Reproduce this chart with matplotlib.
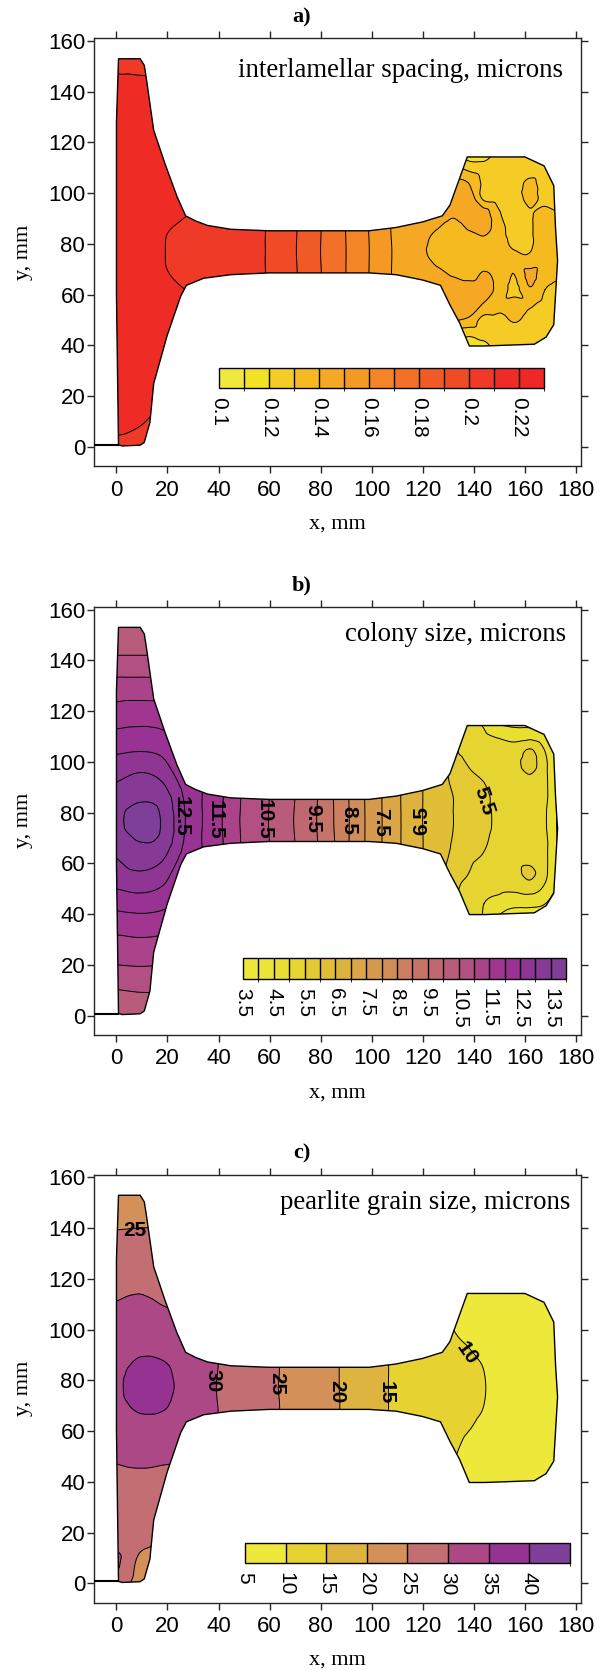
import numpy as np
import matplotlib.pyplot as plt
import matplotlib.tri as mtri
from matplotlib.patches import Polygon
from matplotlib.colors import ListedColormap, BoundaryNorm
from matplotlib.cm import ScalarMappable

plt.rcParams['font.family'] = ['Liberation Sans', 'DejaVu Sans']

# rail cross-section outline (mm)
rail_x = [0.8, 2.3, 9.3, 10.9, 13.1, 14.6, 19.9, 25.2, 27.4, 34.2, 44.8, 59.8, 99.0, 109.6,
          120.0, 127.0, 130.7, 134.5, 138.3, 144.3, 163.8, 168.4, 171.4, 172.9, 172.1, 171.4,
          167.6, 160.1, 137.5, 134.5, 130.7, 127.7, 120.0, 109.6, 99.0, 59.8, 44.8, 35.7,
          31.2, 27.1, 23.7, 19.1, 14.6, 11.6, 10.9, 9.3, 0.8, 0.0, 0.0]
rail_y = [0.8, 0.4, 0.7, 1.8, 9.6, 25.0, 44.0, 59.5, 63.7, 66.5, 67.9, 68.6, 68.6, 67.9,
          65.8, 63.7, 56.0, 48.9, 39.8, 39.8, 40.5, 43.3, 48.2, 73.5, 86.2, 103.0,
          110.8, 114.3, 114.3, 105.9, 95.3, 91.1, 88.7, 86.5, 85.2, 85.2, 85.8, 87.3,
          89.0, 91.1, 98.8, 111.4, 124.8, 146.0, 150.4, 153.0, 153.0, 128.0, 60.0]
foot_x = [-9.0, 0.5]
foot_y = [0.8, 0.8]

# measurement positions: flange (base), web, head
base_x = [0, 9, 18, 27]
base_y = [0, 8, 20, 35, 50, 62, 70, 77, 84, 92, 105, 118, 130, 142, 150, 156]
web_x = [30, 40, 50, 60, 70, 80, 90, 100, 110, 120]
web_y = [62, 77, 92]
head_x = [126, 132, 138, 144, 150, 156, 162, 168, 174]
head_y = [38, 44, 50, 56, 62, 68, 74, 80, 86, 92, 98, 104, 110, 116]

# a) interlamellar spacing, microns
a_base = [[0.205, 0.204, 0.203, 0.203],
          [0.213, 0.210, 0.206, 0.206],
          [0.215, 0.215, 0.215, 0.215],
          [0.215, 0.215, 0.215, 0.215],
          [0.215, 0.215, 0.215, 0.215],
          [0.215, 0.215, 0.2135, 0.210],
          [0.215, 0.215, 0.2107, 0.2075],
          [0.215, 0.215, 0.2105, 0.207],
          [0.215, 0.215, 0.2107, 0.2075],
          [0.215, 0.215, 0.2135, 0.2105],
          [0.215, 0.215, 0.215, 0.215],
          [0.215, 0.215, 0.215, 0.215],
          [0.215, 0.215, 0.215, 0.215],
          [0.215, 0.215, 0.215, 0.215],
          [0.207, 0.206, 0.206, 0.206],
          [0.204, 0.204, 0.204, 0.204]]
a_web = [[0.2095, 0.2045, 0.2035, 0.199, 0.1905, 0.180, 0.170, 0.159, 0.148, 0.141],
         [0.206, 0.204, 0.2035, 0.199, 0.1905, 0.180, 0.170, 0.159, 0.148, 0.141],
         [0.2095, 0.2045, 0.2035, 0.199, 0.1905, 0.180, 0.170, 0.159, 0.148, 0.141]]
a_head = [[0.135, 0.118, 0.113, 0.116, 0.123, 0.124, 0.124, 0.124, 0.124],
          [0.135, 0.125, 0.121, 0.123, 0.124, 0.124, 0.124, 0.124, 0.124],
          [0.145, 0.141, 0.138, 0.126, 0.127, 0.131, 0.127, 0.125, 0.124],
          [0.146, 0.147, 0.146, 0.139, 0.133, 0.134, 0.131, 0.127, 0.125],
          [0.146, 0.147, 0.146, 0.144, 0.137, 0.127, 0.139, 0.130, 0.127],
          [0.142, 0.139, 0.136, 0.141, 0.137, 0.130, 0.143, 0.134, 0.132],
          [0.138, 0.136, 0.135, 0.136, 0.135, 0.133, 0.132, 0.135, 0.134],
          [0.137, 0.135, 0.135, 0.136, 0.134, 0.128, 0.129, 0.134, 0.134],
          [0.140, 0.136, 0.1405, 0.144, 0.134, 0.126, 0.129, 0.134, 0.133],
          [0.145, 0.142, 0.146, 0.145, 0.131, 0.125, 0.129, 0.133, 0.130],
          [0.146, 0.148, 0.147, 0.128, 0.126, 0.125, 0.133, 0.127, 0.125],
          [0.146, 0.143, 0.140, 0.128, 0.126, 0.126, 0.132, 0.126, 0.125],
          [0.143, 0.134, 0.127, 0.125, 0.125, 0.125, 0.125, 0.125, 0.125],
          [0.140, 0.125, 0.112, 0.114, 0.123, 0.124, 0.124, 0.124, 0.124]]
a_levels = [0.10, 0.11, 0.12, 0.13, 0.14, 0.15, 0.16, 0.17, 0.18, 0.19, 0.20, 0.21, 0.22, 0.23]
a_colors = ['#EFE93E', '#F3E124', '#F5CB26', '#F5BA1F', '#F4A823', '#F49922', '#F38526',
            '#F27028', '#EF5A27', '#EE4B26', '#EE3A26', '#EE2B24', '#EE2826']
a_ticks = [0.10, 0.12, 0.14, 0.16, 0.18, 0.20, 0.22]
a_ticklabels = ['0.1', '0.12', '0.14', '0.16', '0.18', '0.2', '0.22']

# b) colony size, microns
b_base = [[10.15, 10.2, 10.2, 10.2],
          [10.4, 10.45, 10.45, 10.45],
          [11.0, 11.03, 11.0, 11.0],
          [11.65, 11.7, 11.65, 11.5],
          [12.5, 12.6, 12.45, 12.0],
          [13.0, 13.25, 13.05, 12.3],
          [13.25, 13.55, 13.4, 12.45],
          [13.35, 13.75, 13.45, 12.5],
          [13.25, 13.5, 13.35, 12.45],
          [13.0, 13.2, 13.0, 12.3],
          [12.4, 12.45, 12.35, 11.9],
          [11.75, 11.8, 11.75, 11.5],
          [11.2, 11.2, 11.2, 11.2],
          [10.5, 10.5, 10.5, 10.5],
          [10.3, 10.3, 10.3, 10.3],
          [10.2, 10.2, 10.2, 10.2]]
b_web = [[12.25, 11.6, 10.9, 10.48, 9.97, 9.4, 8.6, 7.8, 7.1, 6.5],
         [12.25, 11.6, 10.9, 10.48, 9.97, 9.4, 8.6, 7.8, 7.1, 6.5],
         [12.25, 11.6, 10.9, 10.48, 9.97, 9.4, 8.6, 7.8, 7.1, 6.5]]
b_head = [[6.0, 5.8, 5.5, 4.9, 4.4, 4.3, 4.3, 4.2, 4.0],
          [6.1, 5.7, 5.3, 5.0, 4.8, 4.6, 4.6, 4.5, 4.2],
          [6.2, 5.6, 5.4, 5.15, 5.1, 5.1, 5.2, 4.9, 4.3],
          [6.2, 5.7, 5.5, 5.3, 5.25, 5.3, 5.65, 5.1, 4.3],
          [6.3, 5.85, 5.6, 5.45, 5.3, 5.25, 5.3, 5.1, 4.3],
          [6.35, 5.95, 5.75, 5.55, 5.35, 5.2, 5.2, 5.1, 4.3],
          [6.4, 6.0, 5.8, 5.6, 5.4, 5.2, 5.2, 5.05, 4.3],
          [6.4, 6.0, 5.8, 5.6, 5.4, 5.2, 5.2, 5.05, 4.3],
          [6.35, 6.0, 5.75, 5.6, 5.35, 5.2, 5.2, 5.1, 4.3],
          [6.3, 5.9, 5.65, 5.5, 5.3, 5.25, 5.3, 5.1, 4.3],
          [6.3, 5.8, 5.5, 5.3, 5.25, 5.3, 5.7, 5.1, 4.3],
          [6.2, 5.6, 5.35, 5.2, 5.2, 5.2, 5.6, 5.0, 4.3],
          [6.2, 5.7, 5.3, 5.1, 4.95, 4.85, 4.85, 4.6, 4.2],
          [6.2, 5.6, 5.2, 4.9, 4.4, 4.3, 4.3, 4.2, 4.0]]
b_levels = [3.5, 4.0, 4.5, 5.0, 5.5, 6.0, 6.5, 7.0, 7.5, 8.0, 8.5, 9.0, 9.5, 10.0,
            10.5, 11.0, 11.5, 12.0, 12.5, 13.0, 13.5, 14.0]
b_colors = ['#EEE83A', '#ECE535', '#E9DF31', '#E6D430', '#E3CA32', '#E0BE36', '#DDB23D',
            '#DAA646', '#D69A4E', '#D18D57', '#CC8060', '#C67468', '#C06872', '#B95C7C',
            '#B25084', '#AA438A', '#A0368F', '#983393', '#8F3594', '#873996', '#7E3F98']
b_ticks = [3.5, 4.5, 5.5, 6.5, 7.5, 8.5, 9.5, 10.5, 11.5, 12.5, 13.5]
b_ticklabels = ['3.5', '4.5', '5.5', '6.5', '7.5', '8.5', '9.5', '10.5', '11.5', '12.5', '13.5']

# c) pearlite grain size, microns
c_base = [[29.0, 23.0, 22.0, 22.0],
          [31.0, 24.0, 22.5, 22.5],
          [27.5, 27.0, 26.5, 26.5],
          [28.8, 28.8, 28.6, 28.5],
          [30.4, 30.7, 30.5, 30.2],
          [32.0, 33.5, 33.3, 32.0],
          [33.5, 35.8, 35.5, 33.0],
          [34.0, 37.0, 36.5, 33.2],
          [33.6, 36.5, 36.0, 33.0],
          [32.5, 34.2, 33.8, 32.0],
          [31.0, 31.6, 30.8, 30.0],
          [28.8, 29.3, 28.6, 28.0],
          [26.5, 26.8, 26.5, 26.5],
          [24.6, 24.7, 24.7, 24.7],
          [23.5, 23.5, 23.5, 23.5],
          [23.0, 23.0, 23.0, 23.0]]
c_web = [[32.0, 29.8, 27.5, 25.7, 23.6, 21.5, 19.4, 16.8, 14.2, 12.8],
         [32.0, 29.8, 27.5, 25.7, 23.6, 21.5, 19.4, 16.8, 14.2, 12.8],
         [32.0, 29.8, 27.5, 25.7, 23.6, 21.5, 19.4, 16.8, 14.2, 12.8]]
c_head = [[11.0, 9.5, 8.5, 8.0, 7.5, 7.2, 7.0, 7.0, 7.0],
          [11.2, 9.8, 8.8, 8.2, 7.6, 7.3, 7.0, 7.0, 7.0],
          [11.5, 10.2, 9.2, 8.5, 7.8, 7.4, 7.1, 7.0, 7.0],
          [11.8, 10.6, 9.6, 8.9, 8.0, 7.5, 7.2, 7.0, 7.0],
          [12.0, 11.0, 10.2, 9.4, 8.4, 7.7, 7.3, 7.1, 7.0],
          [12.2, 11.3, 10.6, 9.9, 8.8, 7.9, 7.4, 7.2, 7.0],
          [12.3, 11.5, 10.8, 10.1, 9.0, 8.0, 7.5, 7.2, 7.0],
          [12.3, 11.5, 10.8, 10.1, 9.0, 8.0, 7.5, 7.2, 7.0],
          [12.2, 11.3, 10.6, 9.9, 8.8, 7.9, 7.4, 7.2, 7.0],
          [12.0, 10.9, 10.1, 9.4, 8.4, 7.7, 7.3, 7.1, 7.0],
          [11.6, 10.2, 9.5, 8.9, 8.0, 7.5, 7.2, 7.0, 7.0],
          [11.2, 9.7, 9.0, 8.4, 7.7, 7.3, 7.1, 7.0, 7.0],
          [11.0, 9.4, 8.6, 8.0, 7.5, 7.2, 7.0, 7.0, 7.0],
          [10.8, 9.2, 8.4, 7.8, 7.4, 7.1, 7.0, 7.0, 7.0]]
c_levels = [5, 10, 15, 20, 25, 30, 35, 40, 45]
c_colors = ['#EEE83B', '#E6D230', '#DDB43F', '#D39058', '#C36E73', '#AC4886', '#963392', '#7F3F98']
c_ticks = [5, 10, 15, 20, 25, 30, 35, 40]
c_ticklabels = ['5', '10', '15', '20', '25', '30', '35', '40']

# contour labels: text, x, y, rotation
b_labels = [('12.5', 25.5, 78.7, -90), ('11.5', 38.5, 77.2, -90), ('10.5', 57.8, 77.2, -90),
            ('9.5', 77.0, 77.7, -90), ('8.5', 91.0, 77.0, -90), ('7.5', 103.7, 76.0, -90),
            ('6.5', 119.5, 77.0, 90), ('5.5', 144.0, 84.6, -72)]
c_labels = [('25', 7.3, 139.3, 0), ('30', 38.0, 80.0, -90), ('25', 63.0, 78.7, -90),
            ('20', 86.3, 75.6, -90), ('15', 105.6, 75.0, -90), ('10', 137.5, 90.6, -55)]

panels = [
    dict(title='a)', name='interlamellar spacing, microns', name_xy=(175.2, 148.5),
         base=a_base, web=a_web, head=a_head,
         levels=a_levels, colors=a_colors, ticks=a_ticks, ticklabels=a_ticklabels,
         cbar=[40.2, 23.1, 127.4, 8.0], labels=[], bottom=1 - 466.0 / 1670),
    dict(title='b)', name='colony size, microns', name_xy=(176.2, 150.2),
         base=b_base, web=b_web, head=b_head,
         levels=b_levels, colors=b_colors, ticks=b_ticks, ticklabels=b_ticklabels,
         cbar=[49.6, 14.3, 126.7, 8.2], labels=b_labels, bottom=1 - 1034.6 / 1670),
    dict(title='c)', name='pearlite grain size, microns', name_xy=(177.8, 150.2),
         base=c_base, web=c_web, head=c_head,
         levels=c_levels, colors=c_colors, ticks=c_ticks, ticklabels=c_ticklabels,
         cbar=[50.4, 7.9, 127.3, 7.9], labels=c_labels, bottom=1 - 1602.5 / 1670),
]

# one triangulation of all measurement positions
px, py = [], []
for bx, by in ((base_x, base_y), (web_x, web_y), (head_x, head_y)):
    gx, gy = np.meshgrid(bx, by)
    px.append(gx.ravel())
    py.append(gy.ravel())
px = np.concatenate(px).astype(float)
py = np.concatenate(py).astype(float)
tri = mtri.Triangulation(px, py)
refiner = mtri.UniformTriRefiner(tri)

fig = plt.figure(figsize=(6.02, 16.70), dpi=100)
ax_h = 427.8 / 1670

for p in panels:
    ax = fig.add_axes([93.5 / 602, p['bottom'], 487.3 / 602, ax_h])
    z = np.concatenate([np.ravel(p['base']), np.ravel(p['web']), np.ravel(p['head'])])
    interp = mtri.CubicTriInterpolator(tri, z, kind='geom')
    tri_f, z_f = refiner.refine_field(z, triinterpolator=interp, subdiv=3)
    lev = p['levels']
    eps = (lev[1] - lev[0]) * 1e-3
    z_f = np.clip(z_f, lev[0] + eps, lev[-1] - eps)

    cmap = ListedColormap(p['colors'])
    norm = BoundaryNorm(lev, cmap.N)
    clip = Polygon(np.column_stack([rail_x, rail_y]), closed=True, transform=ax.transData)
    cf = ax.tricontourf(tri_f, z_f, levels=lev, cmap=cmap, norm=norm)
    cf.set_clip_path(clip)
    cl = ax.tricontour(tri_f, z_f, levels=lev[1:-1], colors='black', linewidths=0.7)
    cl.set_clip_path(clip)
    ax.add_patch(Polygon(np.column_stack([rail_x, rail_y]), closed=True, fill=False,
                         ec='black', lw=1.0, zorder=3))
    ax.plot(foot_x, foot_y, color='black', lw=1.5, zorder=3)

    for txt, lx, ly, rot in p['labels']:
        ax.text(lx, ly, txt, rotation=rot, ha='center', va='center', fontsize=15,
                fontweight='bold', zorder=4, rotation_mode='anchor')

    ax.text(p['name_xy'][0], p['name_xy'][1], p['name'], ha='right', va='center',
            fontsize=19.3, family='Liberation Serif')

    ax.set_xlim(-9.0, 182.0)
    ax.set_ylim(-7.5, 161.1)
    ax.set_xticks(range(0, 181, 20))
    ax.set_yticks(range(0, 161, 20))
    ax.tick_params(direction='out', length=5, width=1, labelsize=16, top=True, right=True,
                   color='#262626')
    ax.tick_params(axis='x', pad=5)
    ax.tick_params(axis='y', pad=1)
    for s in ax.spines.values():
        s.set_color('#262626')
        s.set_linewidth(1)

    ax.set_xlabel('x, mm', fontsize=16, family='Liberation Serif')
    ax.xaxis.set_label_coords(0.5, -58.0 / 427.8)
    ax.xaxis.label.set_va('center')
    ax.set_ylabel('y, mm', fontsize=16, family='Liberation Serif')
    ax.yaxis.set_label_coords(-(93.5 - 24.0) / 487.3, 0.5)
    ax.yaxis.label.set_va('center')

    top_px = (1 - p['bottom'] - ax_h) * 1670
    fig.text(302.0 / 602, 1 - (top_px - 21.0) / 1670, p['title'], ha='center', va='center',
             fontsize=16, fontweight='bold', family='Liberation Serif')

    # colour scale drawn inside the plot area
    cax = ax.inset_axes(p['cbar'], transform=ax.transData)
    sm = ScalarMappable(norm=norm, cmap=cmap)
    cb = fig.colorbar(sm, cax=cax, orientation='horizontal', drawedges=True)
    cb.set_ticks(p['ticks'])
    cb.set_ticklabels(p['ticklabels'])
    cax.tick_params(length=0, pad=6, labelsize=15, labelrotation=-90)
    cb.outline.set_linewidth(1.0)
    cb.outline.set_edgecolor('black')
    cb.dividers.set_color('black')
    cb.dividers.set_linewidth(1.0)

fig.savefig('out.png', dpi=100)
